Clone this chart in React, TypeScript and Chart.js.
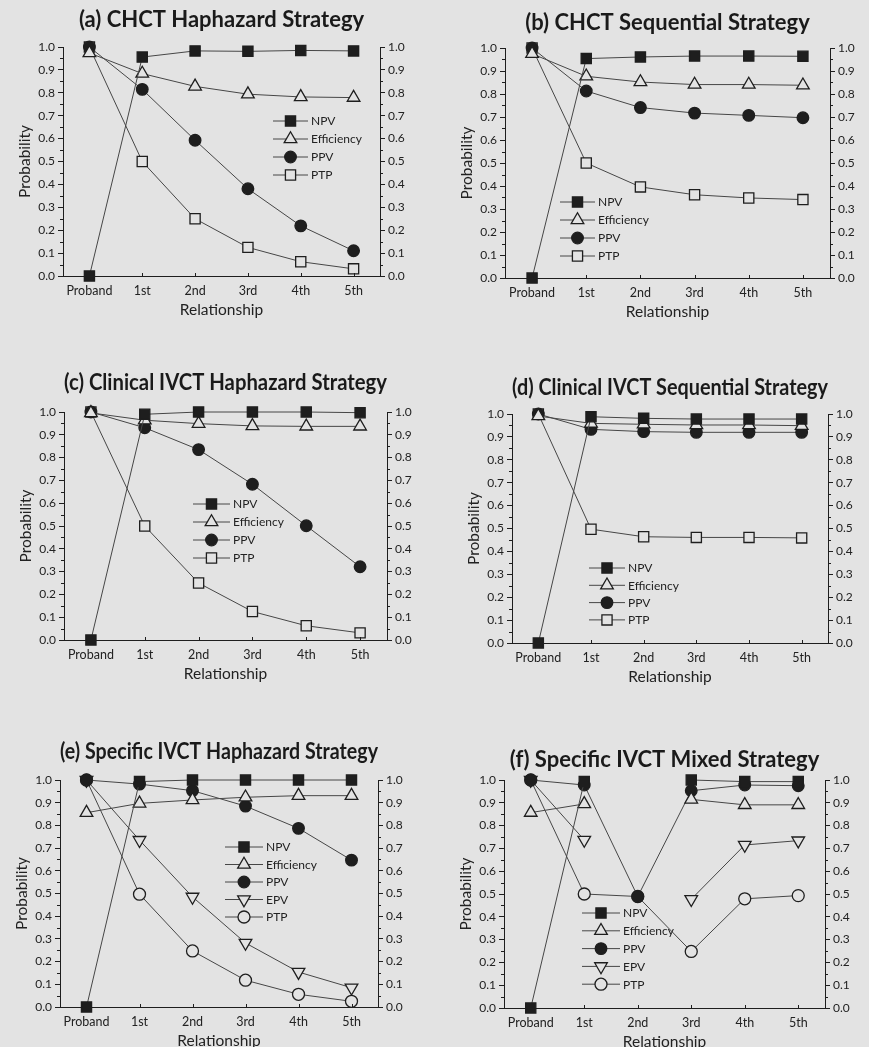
import React, { useEffect, useRef } from 'react';
import { Chart, registerables } from 'chart.js';

Chart.register(...registerables);

// ---------- data ----------
const categories = ['Proband', '1st', '2nd', '3rd', '4th', '5th'];

const aNPV = [0, 0.956, 0.983, 0.981, 0.985, 0.983];
const aEfficiency = [0.974, 0.884, 0.828, 0.794, 0.782, 0.779];
const aPPV = [1, 0.815, 0.593, 0.381, 0.219, 0.11];
const aPTP = [1, 0.5, 0.25, 0.125, 0.0625, 0.03125];

const bNPV = [0, 0.954, 0.961, 0.965, 0.965, 0.964];
const bEfficiency = [0.975, 0.877, 0.852, 0.841, 0.841, 0.838];
const bPPV = [1, 0.813, 0.741, 0.717, 0.707, 0.697];
const bPTP = [1, 0.5, 0.396, 0.362, 0.348, 0.341];

const cNPV = [0, 0.99, 1, 1, 1, 0.997];
const cEfficiency = [0.996, 0.964, 0.949, 0.939, 0.937, 0.937];
const cPPV = [1, 0.931, 0.835, 0.683, 0.501, 0.321];
const cPTP = [1, 0.5, 0.25, 0.125, 0.0625, 0.03125];

const dNPV = [0, 0.988, 0.981, 0.978, 0.978, 0.978];
const dEfficiency = [0.991, 0.959, 0.955, 0.952, 0.952, 0.949];
const dPPV = [1, 0.933, 0.923, 0.92, 0.92, 0.92];
const dPTP = [1, 0.497, 0.464, 0.461, 0.461, 0.459];

const eNPV = [0, 0.993, 1, 1, 1, 1];
const eEfficiency = [0.856, 0.897, 0.912, 0.924, 0.931, 0.931];
const ePPV = [1, 0.982, 0.953, 0.885, 0.787, 0.647];
const eEPV = [1, 0.735, 0.485, 0.282, 0.154, 0.085];
const ePTP = [1, 0.497, 0.247, 0.118, 0.056, 0.025];

const fNPV = [0, 0.993, null, 1, 0.993, 0.993];
const fEfficiency = [0.857, 0.895, null, 0.915, 0.891, 0.891];
const fPPV = [1, 0.978, 0.489, 0.953, 0.978, 0.975];
const fEPV = [1, 0.737, null, 0.477, 0.715, 0.734];
const fPTP = [1, 0.5, 0.489, 0.248, 0.479, 0.493];

const yTickStep = 0.1;

// ---------- styles ----------
const BG = '#e3e3e3';
const INK = '#1e1e1e';
const LINE = '#464646';
const FONT = 'Lato, "Open Sans", "Noto Sans", sans-serif';

type MarkerStyle = { style: string; r: number; rot: number; filled: boolean };
const M_NPV: MarkerStyle = { style: 'rect', r: 7.2, rot: 0, filled: true };
const M_EFF: MarkerStyle = { style: 'triangle', r: 7.3, rot: 0, filled: false };
const M_PPV: MarkerStyle = { style: 'circle', r: 5.8, rot: 0, filled: true };
const M_EPV: MarkerStyle = { style: 'triangle', r: 7.3, rot: 180, filled: false };
const M_PTPsq: MarkerStyle = { style: 'rect', r: 7.2, rot: 0, filled: false };
const M_PTPci: MarkerStyle = { style: 'circle', r: 6, rot: 0, filled: false };

type Series = { label: string; data: (number | null)[]; m: MarkerStyle };
type PanelDef = {
  title: string;
  L: number; R: number; T: number; B: number; titleY: number;
  lg: { x: number; y: number; dy: number; len: number };
  series: Series[];
};

const PAD_L = 50, PAD_R = 40, PAD_T = 45, PAD_B = 47;

const panels: PanelDef[] = [
  {
    title: '(a) CHCT Haphazard Strategy', L: 63, R: 380, T: 47, B: 276, titleY: 20,
    lg: { x: 273, y: 121, dy: 18, len: 35 },
    series: [
      { label: 'NPV', data: aNPV, m: M_NPV },
      { label: 'Efficiency', data: aEfficiency, m: M_EFF },
      { label: 'PPV', data: aPPV, m: M_PPV },
      { label: 'PTP', data: aPTP, m: M_PTPsq },
    ],
  },
  {
    title: '(b) CHCT Sequential Strategy', L: 505, R: 830, T: 48, B: 278, titleY: 23,
    lg: { x: 560, y: 202, dy: 18, len: 35 },
    series: [
      { label: 'NPV', data: bNPV, m: M_NPV },
      { label: 'Efficiency', data: bEfficiency, m: M_EFF },
      { label: 'PPV', data: bPPV, m: M_PPV },
      { label: 'PTP', data: bPTP, m: M_PTPsq },
    ],
  },
  {
    title: '(c) Clinical IVCT Haphazard Strategy', L: 64, R: 387, T: 412, B: 640, titleY: 383,
    lg: { x: 193, y: 504, dy: 18, len: 37 },
    series: [
      { label: 'NPV', data: cNPV, m: M_NPV },
      { label: 'Efficiency', data: cEfficiency, m: M_EFF },
      { label: 'PPV', data: cPPV, m: M_PPV },
      { label: 'PTP', data: cPTP, m: M_PTPsq },
    ],
  },
  {
    title: '(d) Clinical IVCT Sequential Strategy', L: 512, R: 828, T: 414, B: 643, titleY: 388,
    lg: { x: 589, y: 568, dy: 17.3, len: 36 },
    series: [
      { label: 'NPV', data: dNPV, m: M_NPV },
      { label: 'Efficiency', data: dEfficiency, m: M_EFF },
      { label: 'PPV', data: dPPV, m: M_PPV },
      { label: 'PTP', data: dPTP, m: M_PTPsq },
    ],
  },
  {
    title: '(e) Specific IVCT Haphazard Strategy', L: 60, R: 378, T: 780, B: 1007, titleY: 752,
    lg: { x: 225, y: 847, dy: 17.5, len: 38 },
    series: [
      { label: 'NPV', data: eNPV, m: M_NPV },
      { label: 'Efficiency', data: eEfficiency, m: M_EFF },
      { label: 'PPV', data: ePPV, m: M_PPV },
      { label: 'EPV', data: eEPV, m: M_EPV },
      { label: 'PTP', data: ePTP, m: M_PTPci },
    ],
  },
  {
    title: '(f) Specific IVCT Mixed Strategy', L: 504, R: 825, T: 780, B: 1008, titleY: 760,
    lg: { x: 582, y: 913, dy: 17.8, len: 38 },
    series: [
      { label: 'NPV', data: fNPV, m: M_NPV },
      { label: 'Efficiency', data: fEfficiency, m: M_EFF },
      { label: 'PPV', data: fPPV, m: M_PPV },
      { label: 'EPV', data: fEPV, m: M_EPV },
      { label: 'PTP', data: fPTP, m: M_PTPci },
    ],
  },
];

function drawMarker(ctx: CanvasRenderingContext2D, m: MarkerStyle, x: number, y: number) {
  ctx.save();
  ctx.beginPath();
  const r = m.r;
  if (m.style === 'rect') {
    const s = r * Math.SQRT1_2;
    ctx.rect(x - s, y - s, 2 * s, 2 * s);
  } else if (m.style === 'circle') {
    ctx.arc(x, y, r, 0, Math.PI * 2);
  } else {
    let rad = (m.rot * Math.PI) / 180;
    const step = (2 * Math.PI) / 3;
    ctx.moveTo(x + Math.sin(rad) * r, y - Math.cos(rad) * r);
    rad += step;
    ctx.lineTo(x + Math.sin(rad) * r, y - Math.cos(rad) * r);
    rad += step;
    ctx.lineTo(x + Math.sin(rad) * r, y - Math.cos(rad) * r);
    ctx.closePath();
  }
  ctx.fillStyle = m.filled ? INK : BG;
  ctx.strokeStyle = INK;
  ctx.lineWidth = 1.3;
  ctx.fill();
  ctx.stroke();
  ctx.restore();
}

const extrasPlugin = {
  id: 'extras',
  afterDraw(chart: any, _args: any, opts: any) {
    const ctx: CanvasRenderingContext2D = chart.ctx;
    const { left, right, bottom } = chart.chartArea;
    const y = chart.scales.y;
    const x = chart.scales.x;
    ctx.save();
    ctx.strokeStyle = INK;
    ctx.lineWidth = 1;
    ctx.beginPath();
    for (let k = 0; k < 10; k++) {
      const v = 0.05 + k * 0.1;
      const py = Math.round(y.getPixelForValue(v)) + 0.5;
      ctx.moveTo(left - 3, py);
      ctx.lineTo(left, py);
      ctx.moveTo(right, py);
      ctx.lineTo(right + 3, py);
    }
    for (let i = 0; i < categories.length; i++) {
      const px = Math.round(x.getPixelForValue(i)) + 0.5;
      ctx.moveTo(px, bottom);
      ctx.lineTo(px, bottom - 3);
    }
    ctx.stroke();

    // legend
    const lg = opts.lg;
    const series: Series[] = opts.series;
    ctx.font = `12px ${FONT}`;
    ctx.textBaseline = 'middle';
    ctx.textAlign = 'left';
    series.forEach((s, i) => {
      const ry = lg.y + i * lg.dy;
      ctx.beginPath();
      ctx.strokeStyle = LINE;
      ctx.lineWidth = 1;
      ctx.moveTo(lg.x, ry);
      ctx.lineTo(lg.x + lg.len, ry);
      ctx.stroke();
      drawMarker(ctx, s.m, lg.x + lg.len / 2, ry);
      ctx.fillStyle = '#222';
      ctx.fillText(s.label, lg.x + lg.len + 3, ry + 0.5);
    });
    ctx.restore();
  },
};

function Panel({ p }: { p: PanelDef }) {
  const ref = useRef<HTMLCanvasElement | null>(null);
  const cLeft = p.L - PAD_L;
  const cTop = p.T - PAD_T;
  const width = p.R - p.L + PAD_L + PAD_R;
  const height = p.B - p.T + PAD_T + PAD_B;

  useEffect(() => {
    if (!ref.current) return;
    const titleSize = 22;
    const titleLH = titleSize * 1.2;
    const tTop = Math.max(0, p.titleY - titleLH / 2 - cTop);
    const tBottom = Math.max(0, PAD_T - titleLH - tTop);

    const chart = new Chart(ref.current, {
      type: 'line',
      data: {
        labels: categories,
        datasets: p.series.map((s) => ({
          label: s.label,
          data: s.data,
          borderColor: LINE,
          borderWidth: 1,
          pointStyle: s.m.style,
          pointRotation: s.m.rot,
          pointRadius: s.m.r,
          pointHoverRadius: s.m.r,
          pointBackgroundColor: s.m.filled ? INK : BG,
          pointBorderColor: INK,
          pointBorderWidth: 1.3,
          spanGaps: false,
          clip: false,
          tension: 0,
          fill: false,
        })),
      },
      options: {
        animation: false,
        responsive: false,
        maintainAspectRatio: false,
        events: [],
        layout: { padding: 0 },
        plugins: {
          legend: { display: false },
          tooltip: { enabled: false },
          title: {
            display: true,
            text: p.title,
            fullSize: false,
            color: '#1a1a1a',
            font: { size: titleSize, weight: 'bold', family: FONT, lineHeight: 1.2 },
            padding: { top: tTop, bottom: tBottom },
          },
          extras: { lg: { ...p.lg, x: p.lg.x - cLeft, y: p.lg.y - cTop }, series: p.series },
        } as any,
        scales: {
          x: {
            type: 'category',
            offset: true,
            grid: { display: true, drawOnChartArea: false, drawTicks: false, color: INK },
            border: { display: true, color: INK, width: 1 },
            ticks: { color: '#222', font: { size: 12.5, family: FONT }, padding: 7, maxRotation: 0, autoSkip: false },
            title: { display: true, text: 'Relationship', color: '#222', font: { size: 15.5, family: FONT }, padding: { top: 4, bottom: 4 } },
            afterFit: (s: any) => { s.height = PAD_B; },
          },
          y: {
            position: 'left',
            min: 0,
            max: 1,
            grid: { display: true, drawOnChartArea: false, drawTicks: true, tickLength: 5, color: INK, tickColor: INK },
            border: { display: true, color: INK, width: 1 },
            ticks: { stepSize: yTickStep, color: '#222', font: { size: 12, family: FONT }, padding: 3, callback: (v: any) => Number(v).toFixed(1) },
            title: { display: true, text: 'Probability', color: '#222', font: { size: 15.5, family: FONT }, padding: { top: 3, bottom: 3 } },
            afterFit: (s: any) => { s.width = PAD_L; },
          },
          y2: {
            position: 'right',
            min: 0,
            max: 1,
            grid: { display: true, drawOnChartArea: false, drawTicks: true, tickLength: 5, color: INK, tickColor: INK },
            border: { display: true, color: INK, width: 1 },
            ticks: { stepSize: yTickStep, color: '#222', font: { size: 12, family: FONT }, padding: 3, callback: (v: any) => Number(v).toFixed(1) },
            afterFit: (s: any) => { s.width = PAD_R; },
          },
        },
      } as any,
      plugins: [extrasPlugin],
    });
    return () => chart.destroy();
  }, []);

  return (
    <canvas
      ref={ref}
      width={width}
      height={height}
      style={{ position: 'absolute', left: cLeft, top: cTop, width, height }}
    />
  );
}

export default function App() {
  useEffect(() => {
    Chart.defaults.font.family = FONT;
  }, []);
  return (
    <div
      style={{
        position: 'fixed',
        left: 0,
        top: 0,
        width: 869,
        height: 1047,
        overflow: 'hidden',
        background: BG,
        fontFamily: FONT,
      }}
    >
      {panels.map((p, i) => (
        <Panel key={i} p={p} />
      ))}
    </div>
  );
}
